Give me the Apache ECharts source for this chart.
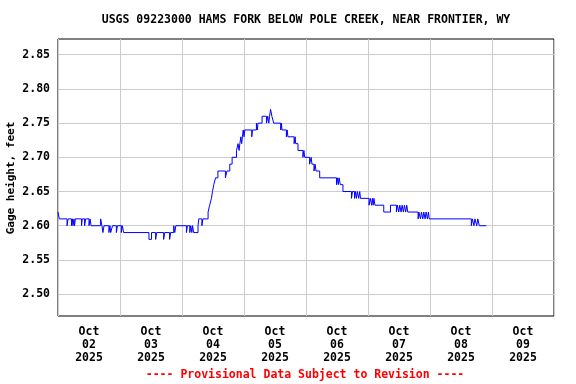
<!DOCTYPE html>
<html>
<head>
<meta charset="utf-8">
<script src="https://cdn.jsdelivr.net/npm/echarts@6/dist/echarts.min.js"></script>
<style>html,body{margin:0;padding:0;background:#fff}#c{width:576px;height:384px}</style>
</head>
<body>
<div id="c"></div>
<script>
// Hours since 2025-10-02 00:00 at which the gage height changed, and the new value (ft)
var hours = [0.0,0.5,3.5,3.9,5.2,5.6,5.8,6.2,6.4,6.7,9.1,9.4,10.3,10.7,12.0,12.4,12.8,16.5,17.0,17.4,17.8,19.7,20.1,20.4,21.1,22.6,23.0,24.5,24.9,25.4,
  35.2,36.2,37.8,38.2,40.9,41.3,43.2,43.6,44.8,45.2,45.6,49.7,50.1,51.0,51.4,51.8,52.1,52.5,54.2,54.5,55.7,56.1,
  58.1,58.7,59.4,59.8,60.3,61.0,61.9,64.8,65.4,66.5,67.4,69.1,69.7,70.1,70.4,70.8,71.1,71.4,71.7,72.0,72.3,75.0,75.3,
  76.8,77.2,77.4,79.0,80.7,81.2,81.6,81.9,82.3,82.8,83.5,86.2,86.5,86.7,88.4,88.7,89.0,91.4,91.8,92.0,92.9,94.8,95.2,95.5,
  97.4,98.0,98.3,99.1,99.5,99.9,101.3,107.8,108.2,108.5,108.8,109.3,110.3,113.6,114.0,114.8,115.2,115.5,115.9,116.4,116.8,117.1,
  120.4,120.9,121.4,121.7,122.0,122.3,122.7,126.1,128.7,131.0,131.4,131.9,132.3,132.8,133.2,133.7,134.1,134.6,135.0,135.4,
  139.4,139.7,140.3,140.7,141.2,141.6,142.1,142.5,143.0,143.4,143.7,160.0,160.4,161.0,161.4,162.1,162.5,163.1,165.8];
var heights = [2.62,2.61,2.60,2.61,2.60,2.61,2.60,2.61,2.60,2.61,2.60,2.61,2.60,2.61,2.60,2.61,2.60,2.61,2.60,2.59,2.60,2.59,2.60,2.59,2.60,2.59,2.60,2.59,2.60,2.59,
  2.58,2.59,2.58,2.59,2.58,2.59,2.58,2.59,2.60,2.59,2.60,2.59,2.60,2.59,2.60,2.59,2.60,2.59,2.60,2.61,2.60,2.61,
  2.62,2.63,2.64,2.65,2.66,2.67,2.68,2.67,2.68,2.69,2.70,2.71,2.72,2.71,2.72,2.73,2.72,2.73,2.74,2.73,2.74,2.73,2.74,
  2.75,2.74,2.75,2.76,2.75,2.76,2.75,2.76,2.77,2.76,2.75,2.74,2.75,2.74,2.73,2.74,2.73,2.72,2.73,2.72,2.71,2.70,2.71,2.70,
  2.69,2.70,2.69,2.68,2.69,2.68,2.67,2.66,2.67,2.66,2.67,2.66,2.65,2.64,2.65,2.64,2.65,2.64,2.65,2.64,2.65,2.64,
  2.63,2.64,2.63,2.64,2.63,2.64,2.63,2.62,2.63,2.62,2.63,2.62,2.63,2.62,2.63,2.62,2.63,2.62,2.63,2.62,
  2.61,2.62,2.61,2.62,2.61,2.62,2.61,2.62,2.61,2.62,2.61,2.60,2.61,2.60,2.61,2.60,2.61,2.60,2.60];

var yTicks = [2.50, 2.55, 2.60, 2.65, 2.70, 2.75, 2.80, 2.85];
var dayLabels = ['02','03','04','05','06','07','08','09'];
var labelHours = [12, 36, 60, 84, 108, 132, 156, 180];
var titleText = 'USGS 09223000 HAMS FORK BELOW POLE CREEK, NEAR FRONTIER, WY';
var yTitle = 'Gage height, feet';
var footer = '---- Provisional Data Subject to Revision ----';

var FONT = 'DejaVu Sans Mono';
var chart = echarts.init(document.getElementById('c'), null, {renderer: 'canvas'});
chart.setOption({
  animation: false,
  backgroundColor: '#ffffff',
  grid: {left: 58, right: 22, top: 39, bottom: 68, show: true, borderColor: '#000', borderWidth: 1, containLabel: false},
  xAxis: {
    type: 'value', min: 0, max: 192, interval: 24,
    axisLine: {show: false}, axisTick: {show: false},
    splitLine: {show: true, lineStyle: {color: '#cccccc', width: 1}},
    axisLabel: {
      customValues: labelHours,
      margin: 10, lineHeight: 13,
      fontFamily: FONT, fontWeight: 'bold', fontSize: 11.5, color: '#000',
      formatter: function (v) {
        var i = labelHours.indexOf(v);
        return 'Oct\n' + dayLabels[i] + '\n2025';
      }
    }
  },
  yAxis: {
    type: 'value', min: 2.468, max: 2.873,
    axisLine: {show: false},
    axisTick: {show: false, customValues: yTicks},
    splitLine: {show: true, lineStyle: {color: '#cccccc', width: 1}},
    axisLabel: {
      customValues: yTicks, margin: 8,
      fontFamily: FONT, fontWeight: 'bold', fontSize: 11.5, color: '#000',
      formatter: function (v) { return v.toFixed(2); }
    }
  },
  graphic: [
    {type: 'text', x: 306, y: 20, style: {text: titleText, fill: '#000', font: 'bold 11.5px "DejaVu Sans Mono"', textAlign: 'center', textVerticalAlign: 'middle'}},
    {type: 'text', x: 11, y: 178, rotation: Math.PI / 2, style: {text: yTitle, fill: '#000', font: 'bold 11px "DejaVu Sans Mono"', textAlign: 'center', textVerticalAlign: 'middle'}},
    {type: 'text', x: 305, y: 375, style: {text: footer, fill: '#ff0000', font: 'bold 11.5px "DejaVu Sans Mono"', textAlign: 'center', textVerticalAlign: 'middle'}}
  ],
  series: [{
    type: 'line', step: 'end', showSymbol: false, symbol: 'none',
    lineStyle: {color: '#0000ff', width: 1},
    data: hours.map(function (h, i) { return [h, heights[i]]; })
  }]
});
</script>
</body>
</html>
